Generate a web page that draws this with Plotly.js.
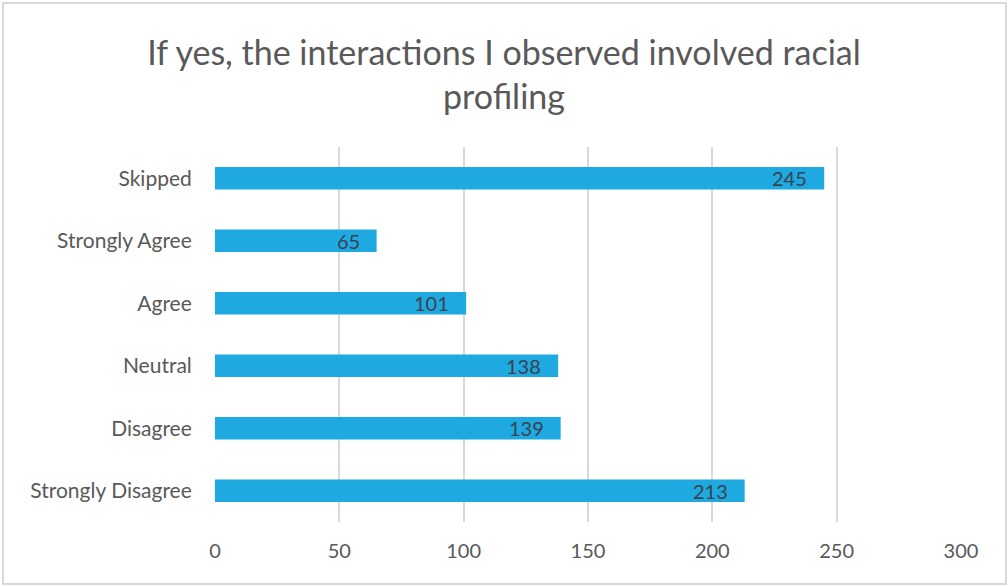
<!DOCTYPE html>
<html>
<head>
<meta charset="utf-8">
<script src="https://cdn.plot.ly/plotly-3.0.1.min.js"></script>
<style>
html,body{margin:0;padding:0;background:#fff;}
#wrap{position:relative;width:1008px;height:586px;}
#chart{width:1008px;height:586px;}
#frame{position:absolute;left:2px;top:2px;width:1001px;height:579px;border:2px solid #d9d9d9;pointer-events:none;}
</style>
</head>
<body>
<div id="wrap"><div id="chart"></div><div id="frame"></div></div>
<script>
var categories = ["Strongly Disagree", "Disagree", "Neutral", "Agree", "Strongly Agree", "Skipped"];
var counts = [213, 139, 138, 101, 65, 245];
var xTicks = [0, 50, 100, 150, 200, 250, 300];
var chartTitle = "If yes, the interactions I observed involved racial<br>profiling";

var trace = {
  type: 'bar',
  orientation: 'h',
  y: categories,
  x: counts,
  marker: {color: '#1ea9e1'},
  hoverinfo: 'none'
};

var annotations = categories.map(function (c, i) {
  return {
    x: counts[i], y: c, xref: 'x', yref: 'y',
    text: String(counts[i]),
    showarrow: false,
    xanchor: 'right', yanchor: 'middle',
    xshift: -15,
    font: {family: 'Lato, sans-serif', size: 20, color: '#3a4250'}
  };
});

var layout = {
  width: 1008, height: 586,
  paper_bgcolor: '#fff', plot_bgcolor: '#fff',
  margin: {l: 215, r: 47, t: 147, b: 64},
  bargap: 0.64,
  showlegend: false,
  annotations: annotations,
  font: {family: 'Lato, sans-serif', color: '#595959'},
  title: {
    text: chartTitle,
    font: {family: 'Lato, sans-serif', size: 34, color: '#595959'},
    x: 0.5, xanchor: 'center', xref: 'container',
    y: 0.889, yanchor: 'middle', yref: 'container'
  },
  xaxis: {
    range: [0, 300],
    tickvals: xTicks,
    ticktext: xTicks.map(String),
    showgrid: true, gridcolor: '#d9d9d9', gridwidth: 2,
    zeroline: false, showline: false,
    ticks: 'outside', ticklen: 11, tickcolor: 'rgba(0,0,0,0)',
    tickfont: {family: 'Lato, sans-serif', size: 20, color: '#595959'}
  },
  yaxis: {
    categoryorder: 'array', categoryarray: categories,
    showgrid: false, zeroline: false, showline: false,
    ticks: 'outside', ticklen: 18, tickcolor: 'rgba(0,0,0,0)',
    tickfont: {family: 'Lato, sans-serif', size: 21, color: '#595959'}
  }
};

Plotly.newPlot('chart', [trace], layout, {displayModeBar: false, staticPlot: true});
</script>
</body>
</html>
